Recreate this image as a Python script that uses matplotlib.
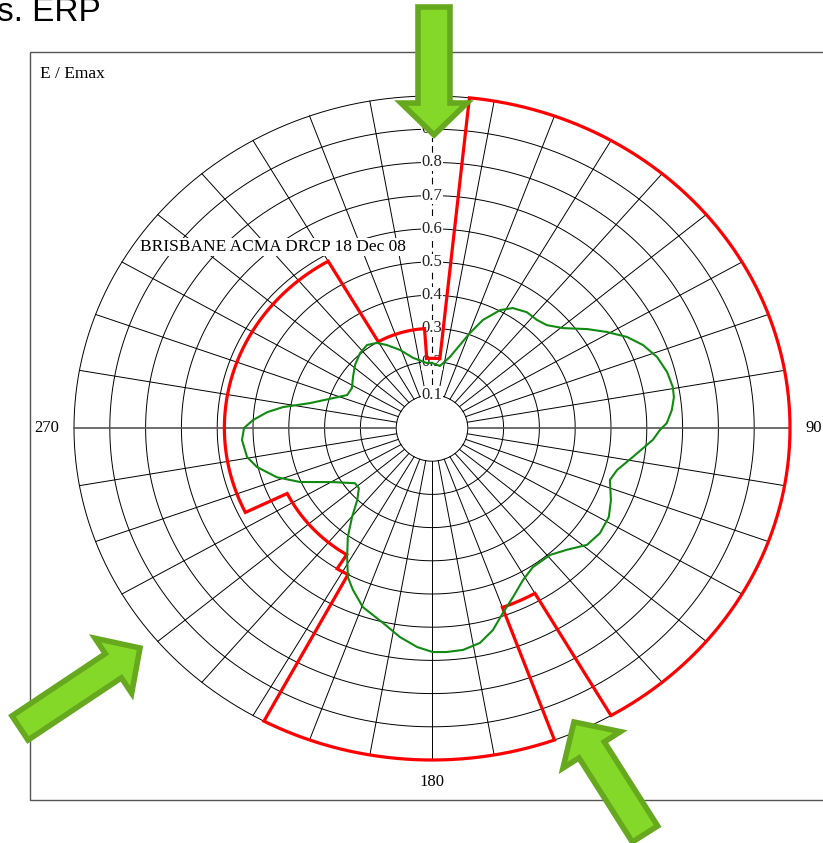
import numpy as np
import matplotlib
matplotlib.use("Agg")
import matplotlib.pyplot as plt
from matplotlib.patches import FancyArrow, Rectangle

W_PX, H_PX = 823, 843

# DRCP limit sectors, bearing in degrees clockwise from north, level in E/Emax
red_start = [-4, 6, 150, 160, 208, 212, 244, 330]
red_end = [6, 150, 160, 208, 212, 244, 330, 356]
red_level = [0.21, 1.0, 0.575, 1.0, 0.50, 0.45, 0.58, 0.30]

# measured pattern (bearing, E/Emax)
green_deg = [0, 6.7, 13.2, 20.3, 23.6, 28.2, 32.0, 37.2, 42.0, 46.0, 50.6, 55.5,
             59.4, 63.3, 67.0, 71.2, 75.6, 79.6, 82.2, 85.4, 88.7, 90.5, 93.3,
             98.8, 103.8, 107.5, 113.5, 118.5, 124.0, 129.1, 134.2, 139.2, 146.1,
             151.0, 156.0, 160.4, 164.4, 168.3, 172.6, 176.5, 179.8, 183.6, 188.1,
             193.1, 199.7, 204.4, 207.6, 211.4, 215.6, 219.8, 223.9, 228.4, 232.3,
             239.5, 246.2, 251.1, 256.5, 260.4, 266.1, 270.0, 272.7, 275.9, 278.6,
             282.4, 288.0, 292.7, 298.3, 304.9, 311.5, 318.3, 324.0, 329.0, 333.2,
             339.3, 345.9, 355.9, 360]
green_r = [.196, .188, .220, .305, .355, .403, .426, .438, .438, .446, .474, .526,
           .568, .610, .640, .664, .678, .684, .682, .672, .656, .637, .618,
           .568, .532, .521, .545, .562, .566, .558, .526, .505, .505,
           .524, .557, .591, .632, .661, .674, .676, .675, .661, .636,
           .603, .573, .535, .507, .455, .404, .349, .301, .273, .272,
           .321, .403, .458, .503, .524, .532, .525, .501, .463, .421,
           .349, .291, .257, .254, .269, .287, .302, .309, .299, .280,
           .251, .218, .196, .196]

ring_levels = [0.1, 0.2, 0.3, 0.4, 0.5, 0.6, 0.7, 0.8, 0.9, 1.0]
tick_labels = ["0.1", "0.2", "0.3", "0.4", "0.5", "0.6", "0.7", "0.8", "0.9"]
spoke_deg = list(range(10, 360, 10))

SERIF = "Liberation Serif"


def to_xy(deg, r):
    t = np.radians(np.asarray(deg, dtype=float))
    r = np.asarray(r, dtype=float)
    return r * np.sin(t), r * np.cos(t)


fig = plt.figure(figsize=(W_PX / 100, H_PX / 100), dpi=100)

# polar area: centre and pixel scale of a unit radius (slightly stretched)
CX, CY, SX, SY, LIM = 432, 428, 358, 332, 1.12
ax = fig.add_axes([(CX - LIM * SX) / W_PX, (H_PX - CY - LIM * SY) / H_PX,
                   2 * LIM * SX / W_PX, 2 * LIM * SY / H_PX])
ax.set_xlim(-LIM, LIM)
ax.set_ylim(-LIM, LIM)
ax.axis("off")

ov = fig.add_axes([0, 0, 1, 1], zorder=5)
ov.set_xlim(0, W_PX)
ov.set_ylim(H_PX, 0)
ov.axis("off")
ov.patch.set_alpha(0)

# grid
full = np.linspace(0, 360, 721)
for lv in ring_levels:
    x, y = to_xy(full, np.full_like(full, lv))
    ax.plot(x, y, color="black", lw=0.7, zorder=1)
for d in spoke_deg:
    if d in (90, 270):
        continue
    x, y = to_xy([d, d], [0.1, 1.0])
    ax.plot(x, y, color="black", lw=0.7, zorder=1)
x, y = to_xy([0, 0], [0.1, 1.0])
ax.plot(x, y, color="black", lw=0.8, dashes=(6, 3.5), zorder=1)
for d in (90, 270):
    x, y = to_xy([d, d], [0.1, 1.0])
    ax.plot(x, y, color="#555555", lw=1.2, zorder=1)

for lv, lab in zip(ring_levels, tick_labels):
    ax.text(0, lv, lab, ha="center", va="center", fontsize=12, family=SERIF,
            color="#222222", zorder=3,
            bbox=dict(fc="white", ec="none", pad=0.3))

# DRCP limit outline
rx, ry = [], []
for a0, a1, lv in zip(red_start, red_end, red_level):
    a = np.linspace(a0, a1, max(2, int(abs(a1 - a0) * 2)))
    x, y = to_xy(a, np.full_like(a, lv))
    rx.extend(x)
    ry.extend(y)
rx.append(rx[0])
ry.append(ry[0])
ax.plot(rx, ry, color="#ff0000", lw=2.3, solid_joinstyle="miter", zorder=4)

# measured pattern
gx, gy = to_xy(green_deg, green_r)
ax.plot(gx, gy, color="#118a11", lw=1.5, zorder=5)

# texts
ax.text(-0.816, 0.545, "BRISBANE ACMA DRCP 18 Dec 08", fontsize=12.5,
        family=SERIF, ha="left", va="center", zorder=3,
        bbox=dict(fc="white", ec="none", pad=0.5))
ov.text(40, 74, "E / Emax", fontsize=12.5, family=SERIF, ha="left", va="center")
ov.text(47, 428, "270", fontsize=12, family=SERIF, ha="center", va="center")
ov.text(806, 428, "90", fontsize=12, family=SERIF, ha="left", va="center")
ov.text(432, 782, "180", fontsize=12, family=SERIF, ha="center", va="center")
ov.text(101, 21, "s. ERP", fontsize=24, family="Liberation Sans",
        ha="right", va="baseline")

ov.add_patch(Rectangle((30, 52), 830, 748, fill=False, ec="#555555", lw=1))

# highlight arrows
arrow_kw = dict(fc="#84d928", ec="#66a81e", lw=4, joinstyle="miter",
                length_includes_head=True)
ov.add_patch(FancyArrow(434, 7, 0, 128, width=32, head_width=66,
                        head_length=32, **arrow_kw))
ov.add_patch(FancyArrow(20, 728, 120, -80, width=29, head_width=66,
                        head_length=32, **arrow_kw))
ov.add_patch(FancyArrow(645, 834, -71, -112, width=30, head_width=68,
                        head_length=33, **arrow_kw))

fig.savefig("out.png", dpi=100)
